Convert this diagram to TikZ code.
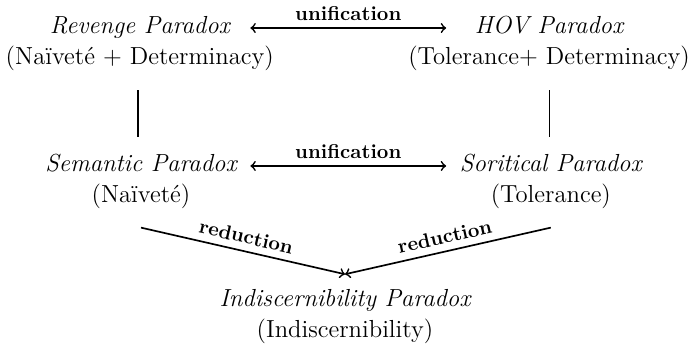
\documentclass[tikz,border=0pt]{standalone}
\usepackage{fontspec}
\usetikzlibrary{positioning,calc}

\begin{document}
\begin{tikzpicture}[
    title/.style={font=\fontsize{11.8}{14}\selectfont\itshape, inner sep=3pt, anchor=base},
    sub/.style={font=\fontsize{11.8}{14}\selectfont, inner sep=3pt, anchor=base},
    link/.style={thick, <->, shorten <=0.12cm, shorten >=0.12cm},
    red/.style={thick, ->},
    bar/.style={thick},
    lab/.style={font=\fontsize{9.6}{11}\selectfont\bfseries, above}
  ]
    \useasboundingbox (0,0) rectangle (11.6,-5.88);

    \node[title] (revengeT) at (2.35,-0.571) {Revenge Paradox};
    \node[sub] (revengeS) at ([yshift=-0.52cm]revengeT.base) {(Naïveté + Determinacy)};
    \node[title] (hovT) at (9.23,-0.571) {HOV Paradox};
    \node[sub] (hovS) at ([yshift=-0.52cm]hovT.base) {(Tolerance+ Determinacy)};

    \node[title] (semanticT) at (2.37,-2.89) {Semantic Paradox};
    \node[sub] (semanticS) at ([yshift=-0.52cm]semanticT.base) {(Naïveté)};
    \node[title] (soritesT) at (9.26,-2.89) {Soritical Paradox};
    \node[sub] (soritesS) at ([yshift=-0.52cm]soritesT.base) {(Tolerance)};

    \node[title] (indiscT) at (5.80,-5.16) {Indiscernibility Paradox};
    \node[sub] (indiscS) at ([yshift=-0.52cm]indiscT.base) {(Indiscernibility)};

    \coordinate (meet) at (5.80,-4.61);

    \draw[link] ([yshift=0.1cm]revengeT.base -| semanticT.east) -- node[lab] {unification} ([yshift=0.1cm]hovT.base -| soritesT.west);
    \draw[link] ([yshift=0.1cm]semanticT.base east) -- node[lab] {unification} ([yshift=0.1cm]soritesT.base west);
    \draw[bar, shorten <=0.21cm, shorten >=0.18cm] (revengeS.south -| 2.32,0) -- (semanticT.north -| 2.32,0);
    \draw[bar, shorten <=0.21cm, shorten >=0.18cm] (hovS.south -| 9.24,0) -- (soritesT.north -| 9.24,0);
    \draw[red] ([yshift=-0.2cm]semanticS.south) -- node[lab, sloped] {reduction} (meet);
    \draw[red] ([yshift=-0.2cm]soritesS.south) -- node[lab, sloped] {reduction} (meet);
\end{tikzpicture}
\end{document}
